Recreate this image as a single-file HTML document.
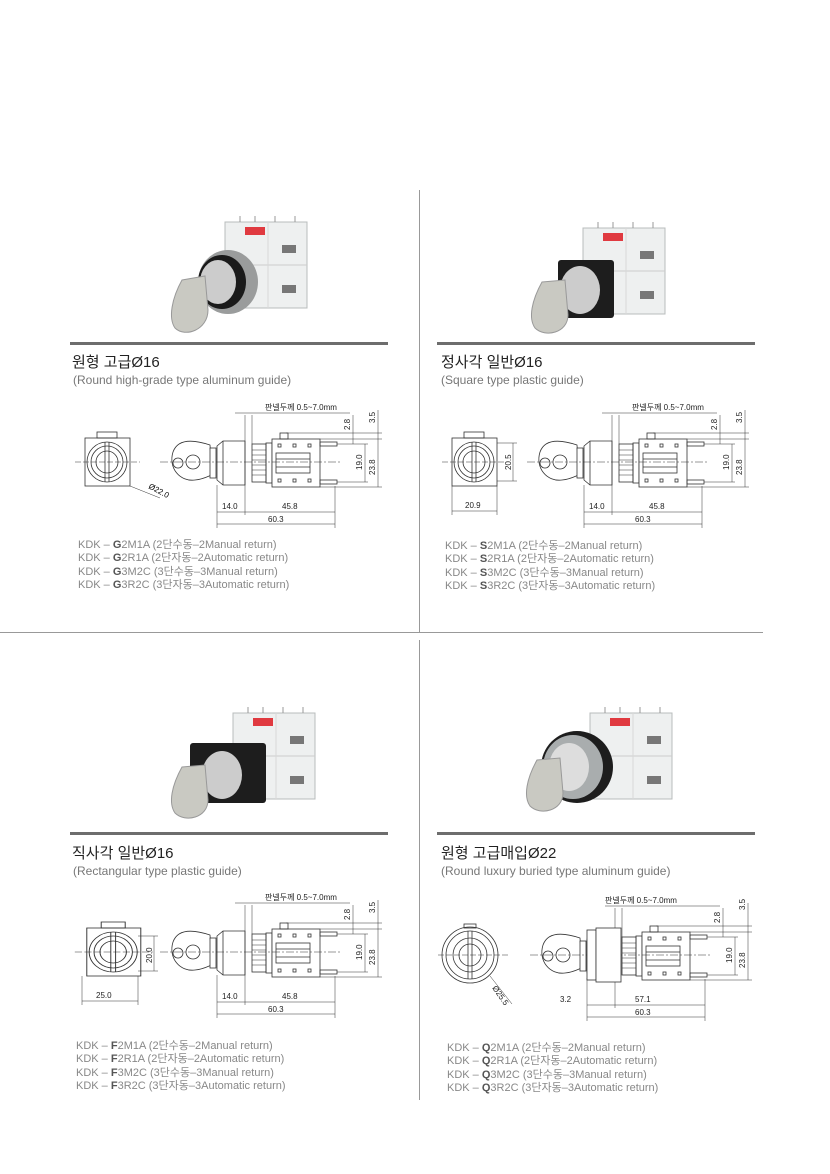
<!DOCTYPE html>
<html><head><meta charset="utf-8">
<style>
body{margin:0;background:#fff;}
#p{position:relative;width:830px;height:1174px;overflow:hidden;background:#fff;font-family:"Liberation Sans","Noto Sans CJK KR",sans-serif;}
.a{position:absolute;}
.bar{position:absolute;height:3px;background:#6d6d6d;width:318px;}
.t{position:absolute;font-size:15px;color:#222;white-space:nowrap;}
.s{position:absolute;font-size:12px;color:#777;white-space:nowrap;}
.m{position:absolute;font-size:11px;color:#888;line-height:13.3px;white-space:nowrap;}
.m b{color:#555;}
svg text{font-family:"Liberation Sans","Noto Sans CJK KR",sans-serif;}
</style></head><body><div id="p">
<svg width="0" height="0" style="position:absolute">
<defs>
<g id="side" fill="none" stroke="#333" stroke-width="0.8">
  <!-- key -->
  <path d="M150 105 C135 100 118 98 113 112 C108 128 120 142 135 140 C145 139 150 135 152 135 Z" fill="#fff"/>
  <circle cx="118" cy="123" r="5"/>
  <circle cx="133" cy="122" r="7"/>
  <rect x="150" y="108" width="6" height="30" fill="#fff"/>
  <!-- bezel -->
  <path d="M157 106 L163 101 L185 101 L185 145 L163 145 L157 140 Z" fill="#fff"/>
  <line x1="163" y1="101" x2="163" y2="145"/>
  <rect x="192" y="104" width="14" height="38" fill="#fff"/>
  <g stroke-width="0.5"><line x1="192" y1="110" x2="206" y2="110"/><line x1="192" y1="115" x2="206" y2="115"/><line x1="192" y1="120" x2="206" y2="120"/><line x1="192" y1="125" x2="206" y2="125"/><line x1="192" y1="130" x2="206" y2="130"/><line x1="192" y1="135" x2="206" y2="135"/></g>
  <rect x="206" y="103" width="6" height="40"/>
  <!-- body -->
  <rect x="212" y="99" width="48" height="48" fill="#fff"/>
  <rect x="220" y="93" width="8" height="6"/>
  <rect x="216" y="113" width="34" height="20"/>
  <line x1="216" y1="119" x2="250" y2="119"/><line x1="216" y1="127" x2="250" y2="127"/>
  <rect x="218" y="104" width="3" height="3"/><rect x="233" y="104" width="3" height="3"/><rect x="248" y="104" width="3" height="3"/>
  <rect x="218" y="139" width="3" height="3"/><rect x="233" y="139" width="3" height="3"/><rect x="248" y="139" width="3" height="3"/>
  <rect x="260" y="102" width="17" height="4"/><rect x="260" y="140" width="17" height="4"/>
  <!-- center line -->
  <line x1="100" y1="122" x2="282" y2="122" stroke-dasharray="8 2 2 2" stroke-width="0.5"/>
  <!-- dims -->
  <g stroke-width="0.5">
  <line x1="157" y1="145" x2="157" y2="188"/><line x1="185" y1="75" x2="185" y2="175"/><line x1="192" y1="75" x2="192" y2="104"/>
  <line x1="275" y1="146" x2="275" y2="188"/>
  <line x1="157" y1="172" x2="275" y2="172"/><line x1="157" y1="184" x2="275" y2="184"/>
  <line x1="175" y1="73" x2="290" y2="73"/>
  <line x1="226" y1="93" x2="322" y2="93"/><line x1="260" y1="99" x2="322" y2="99"/>
  <line x1="277" y1="104" x2="308" y2="104"/><line x1="277" y1="142" x2="308" y2="142"/><line x1="260" y1="147" x2="322" y2="147"/>
  <line x1="293" y1="75" x2="293" y2="104"/><line x1="305" y1="104" x2="305" y2="142"/><line x1="318" y1="70" x2="318" y2="147"/>
  </g>
</g>
<g id="front" fill="none" stroke="#333" stroke-width="0.8">
  <rect x="25" y="98" width="45" height="48" fill="#fff"/>
  <rect x="37" y="92" width="20" height="6"/>
  <circle cx="47" cy="122" r="20"/><circle cx="47" cy="122" r="16"/><circle cx="47" cy="122" r="11"/>
  <line x1="45" y1="102" x2="45" y2="142"/><line x1="49" y1="102" x2="49" y2="142"/>
  <line x1="15" y1="122" x2="80" y2="122" stroke-dasharray="6 2" stroke-width="0.5"/>
</g>
<g id="photo">
  <rect x="75" y="12" width="82" height="86" fill="#eef0f0" stroke="#b8bcbc"/>
  <line x1="75" y1="55" x2="157" y2="55" stroke="#ccc"/>
  <line x1="118" y1="12" x2="118" y2="98" stroke="#d8d8d8"/>
  <rect x="95" y="17" width="20" height="8" fill="#e03a40"/>
  <rect x="132" y="35" width="14" height="8" fill="#777"/><rect x="132" y="75" width="14" height="8" fill="#777"/>
  <g stroke="#999"><line x1="90" y1="6" x2="90" y2="12"/><line x1="105" y1="6" x2="105" y2="12"/><line x1="125" y1="6" x2="125" y2="12"/><line x1="145" y1="6" x2="145" y2="12"/></g>
</g>
</defs></svg>

<!-- dividers -->
<div class="a" style="left:419px;top:190px;width:1px;height:442px;background:#999"></div>
<div class="a" style="left:419px;top:640px;width:1px;height:460px;background:#999"></div>
<div class="a" style="left:0;top:632px;width:763px;height:1px;background:#999"></div>

<!-- photos -->
<svg class="a" style="left:150px;top:210px" width="180" height="130">
 <use href="#photo"/>
 <ellipse cx="78" cy="72" rx="30" ry="32" fill="#9a9c9c"/><ellipse cx="72" cy="72" rx="24" ry="27" fill="#1a1a1a"/><ellipse cx="68" cy="72" rx="18" ry="22" fill="#ccc"/>
 <path d="M32 70 L55 66 L58 100 C58 120 35 128 25 118 C18 108 22 88 32 70Z" fill="#c9c9c2" stroke="#999"/>
</svg>
<svg class="a" style="left:510px;top:220px" width="180" height="120">
 <use href="#photo" transform="translate(-2,-4)"/>
 <rect x="48" y="40" width="56" height="58" rx="3" fill="#1d1d1d"/>
 <ellipse cx="70" cy="70" rx="20" ry="24" fill="#ccc"/>
 <path d="M32 62 L55 60 L58 95 C58 113 35 118 25 108 C18 98 22 80 32 62Z" fill="#c9c9c2" stroke="#999"/>
</svg>
<svg class="a" style="left:160px;top:705px" width="180" height="125">
 <use href="#photo" transform="translate(-2,-4)"/>
 <rect x="30" y="38" width="76" height="60" rx="3" fill="#1d1d1d"/>
 <ellipse cx="62" cy="70" rx="20" ry="24" fill="#ccc"/>
 <path d="M22 62 L45 60 L48 95 C48 113 25 118 15 108 C8 98 12 80 22 62Z" fill="#c9c9c2" stroke="#999"/>
</svg>
<svg class="a" style="left:515px;top:705px" width="180" height="125">
 <use href="#photo" transform="translate(0,-4)"/>
 <ellipse cx="62" cy="62" rx="36" ry="36" fill="#1d1d1d"/>
 <ellipse cx="58" cy="62" rx="30" ry="32" fill="#a9adae"/><ellipse cx="54" cy="62" rx="20" ry="24" fill="#ddd"/>
 <path d="M22 55 L45 53 L48 88 C48 106 25 111 15 101 C8 91 12 73 22 55Z" fill="#c9c9c2" stroke="#999"/>
</svg>

<!-- Quadrant 1 -->
<div class="bar" style="left:70px;top:342px"></div>
<div class="t" style="left:72px;top:351px">원형 고급Ø16</div>
<div class="s" style="left:73px;top:373px">(Round high-grade type aluminum guide)</div>
<svg class="a" style="left:60px;top:340px" width="340" height="200">
 <use href="#front"/><use href="#side"/>
 <line x1="70" y1="146" x2="100" y2="158" stroke="#333" stroke-width="0.5"/>
 <text x="88" y="148" font-size="8" transform="rotate(28 88 148)">Ø22.0</text>
 <g font-size="8" fill="#222">
 <text x="205" y="70">판넬두께 0.5~7.0mm</text>
 <text x="162" y="169">14.0</text><text x="222" y="169">45.8</text><text x="208" y="182">60.3</text>
 <text transform="translate(290,90) rotate(-90)">2.8</text><text transform="translate(315,83) rotate(-90)">3.5</text>
 <text transform="translate(302,130) rotate(-90)">19.0</text><text transform="translate(315,135) rotate(-90)">23.8</text>
 </g>
</svg>
<div class="m" style="left:78px;top:539px">KDK – <b>G</b>2M1A (2단수동–2Manual return)<br>KDK – <b>G</b>2R1A (2단자동–2Automatic return)<br>KDK – <b>G</b>3M2C (3단수동–3Manual return)<br>KDK – <b>G</b>3R2C (3단자동–3Automatic return)</div>

<!-- Quadrant 2 -->
<div class="bar" style="left:437px;top:342px"></div>
<div class="t" style="left:441px;top:351px">정사각 일반Ø16</div>
<div class="s" style="left:441px;top:373px">(Square type plastic guide)</div>
<svg class="a" style="left:427px;top:340px" width="340" height="200">
 <use href="#front"/><use href="#side"/>
 <g stroke="#333" stroke-width="0.5"><line x1="70" y1="103" x2="90" y2="103"/><line x1="70" y1="141" x2="90" y2="141"/><line x1="86" y1="103" x2="86" y2="141"/><line x1="25" y1="146" x2="25" y2="175"/><line x1="70" y1="146" x2="70" y2="175"/><line x1="25" y1="171" x2="70" y2="171"/></g>
 <g font-size="8" fill="#222">
 <text transform="translate(84,130) rotate(-90)">20.5</text><text x="38" y="168">20.9</text>
 <text x="205" y="70">판넬두께 0.5~7.0mm</text>
 <text x="162" y="169">14.0</text><text x="222" y="169">45.8</text><text x="208" y="182">60.3</text>
 <text transform="translate(290,90) rotate(-90)">2.8</text><text transform="translate(315,83) rotate(-90)">3.5</text>
 <text transform="translate(302,130) rotate(-90)">19.0</text><text transform="translate(315,135) rotate(-90)">23.8</text>
 </g>
</svg>
<div class="m" style="left:445px;top:540px">KDK – <b>S</b>2M1A (2단수동–2Manual return)<br>KDK – <b>S</b>2R1A (2단자동–2Automatic return)<br>KDK – <b>S</b>3M2C (3단수동–3Manual return)<br>KDK – <b>S</b>3R2C (3단자동–3Automatic return)</div>

<!-- Quadrant 3 -->
<div class="bar" style="left:70px;top:832px"></div>
<div class="t" style="left:72px;top:842px">직사각 일반Ø16</div>
<div class="s" style="left:73px;top:864px">(Rectangular type plastic guide)</div>
<svg class="a" style="left:60px;top:830px" width="340" height="200">
 <use href="#front" transform="translate(-8,0) scale(1.2,1) translate(4,0)"/><use href="#side"/>
 <g stroke="#333" stroke-width="0.5"><line x1="78" y1="106" x2="98" y2="106"/><line x1="78" y1="141" x2="98" y2="141"/><line x1="94" y1="106" x2="94" y2="141"/><line x1="22" y1="146" x2="22" y2="175"/><line x1="78" y1="146" x2="78" y2="175"/><line x1="22" y1="171" x2="78" y2="171"/></g>
 <g font-size="8" fill="#222">
 <text transform="translate(92,133) rotate(-90)">20.0</text><text x="36" y="168">25.0</text>
 <text x="205" y="70">판넬두께 0.5~7.0mm</text>
 <text x="162" y="169">14.0</text><text x="222" y="169">45.8</text><text x="208" y="182">60.3</text>
 <text transform="translate(290,90) rotate(-90)">2.8</text><text transform="translate(315,83) rotate(-90)">3.5</text>
 <text transform="translate(302,130) rotate(-90)">19.0</text><text transform="translate(315,135) rotate(-90)">23.8</text>
 </g>
</svg>
<div class="m" style="left:76px;top:1040px">KDK – <b>F</b>2M1A (2단수동–2Manual return)<br>KDK – <b>F</b>2R1A (2단자동–2Automatic return)<br>KDK – <b>F</b>3M2C (3단수동–3Manual return)<br>KDK – <b>F</b>3R2C (3단자동–3Automatic return)</div>

<!-- Quadrant 4 -->
<div class="bar" style="left:437px;top:832px"></div>
<div class="t" style="left:441px;top:842px">원형 고급매입Ø22</div>
<div class="s" style="left:441px;top:864px">(Round luxury buried type aluminum guide)</div>
<svg class="a" style="left:430px;top:880px" width="340" height="160">
 <g fill="none" stroke="#333" stroke-width="0.8">
  <circle cx="40" cy="75" r="28" fill="#fff"/><circle cx="40" cy="75" r="24"/><circle cx="40" cy="75" r="17"/><circle cx="40" cy="75" r="11"/>
  <line x1="38" y1="51" x2="38" y2="99"/><line x1="42" y1="51" x2="42" y2="99"/>
  <rect x="34" y="44" width="12" height="4"/>
  <line x1="8" y1="75" x2="80" y2="75" stroke-dasharray="6 2" stroke-width="0.5"/>
  <line x1="60" y1="96" x2="82" y2="124" stroke-width="0.5"/>
 </g>
 <use href="#side" transform="translate(0,-47)"/>
 <g fill="#fff" stroke="#333" stroke-width="0.8"><rect x="157" y="50" width="9" height="50"/><rect x="166" y="48" width="25" height="54"/></g>
 <g font-size="8" fill="#222">
 <text x="62" y="108" transform="rotate(55 62 108)">Ø25.5</text>
 <text x="175" y="23">판넬두께 0.5~7.0mm</text>
 <text x="130" y="122">3.2</text><text x="205" y="122">57.1</text><text x="205" y="135">60.3</text>
 <text transform="translate(290,43) rotate(-90)">2.8</text><text transform="translate(315,30) rotate(-90)">3.5</text>
 <text transform="translate(302,83) rotate(-90)">19.0</text><text transform="translate(315,88) rotate(-90)">23.8</text>
 </g>
</svg>
<div class="m" style="left:447px;top:1042px">KDK – <b>Q</b>2M1A (2단수동–2Manual return)<br>KDK – <b>Q</b>2R1A (2단자동–2Automatic return)<br>KDK – <b>Q</b>3M2C (3단수동–3Manual return)<br>KDK – <b>Q</b>3R2C (3단자동–3Automatic return)</div>
</div></body></html>
